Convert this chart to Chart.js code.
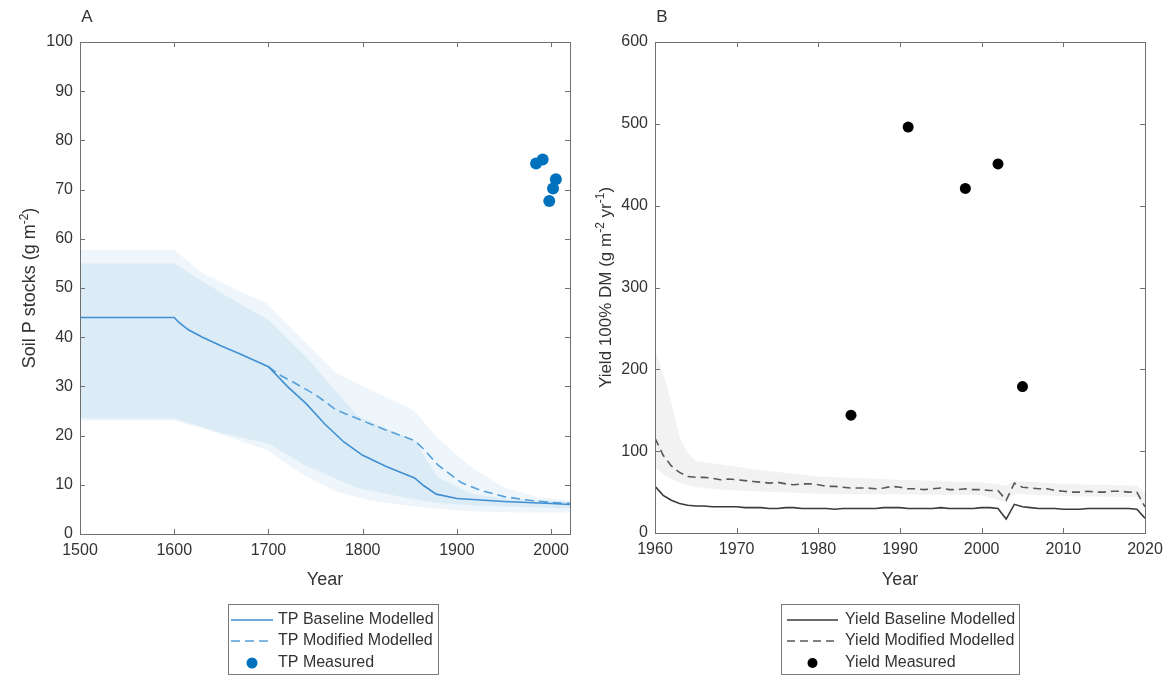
<!DOCTYPE html>
<html>
<head>
<meta charset="utf-8">
<script src="https://cdn.jsdelivr.net/npm/chart.js"></script>
<style>
  html, body { margin: 0; padding: 0; background: #fff; }
  #wrap { position: relative; width: 1172px; height: 675px; overflow: hidden; }
  canvas { position: absolute; top: 0; }
  #chartA { left: 0; }
  #chartB { left: 586px; }
</style>
</head>
<body>
<div id="wrap">
  <canvas id="chartA" width="586" height="675"></canvas>
  <canvas id="chartB" width="586" height="675"></canvas>
</div>
<script>
// Panel A: soil P stocks (g m-2)
const tpYears = [1500, 1600, 1605, 1615, 1630, 1650, 1670, 1700, 1720, 1740, 1760, 1780, 1800, 1825, 1855, 1865, 1878, 1900, 1950, 2000, 2020];
const tpBaseline = [44, 44, 43, 41.5, 40, 38.2, 36.6, 34, 30, 26.5, 22.3, 18.7, 16, 13.7, 11.4, 9.8, 8.1, 7.2, 6.6, 6.2, 6];
const tpModYears = [1700, 1712, 1725, 1750, 1772, 1800, 1825, 1855, 1865, 1880, 1905, 1925, 1950, 1975, 2000, 2020];
const tpModified = [34, 32.3, 31, 28.3, 25.2, 23, 21.1, 19, 17.2, 14, 10.4, 8.9, 7.6, 6.9, 6.4, 6.2];
const tpBandBaseYears = [1500, 1600, 1650, 1700, 1740, 1795, 1855, 1880, 1915, 1950, 2020];
const tpBandBaseHigh = [55, 55, 49, 43.5, 36, 24, 19, 11.5, 8.2, 7.2, 6.6];
const tpBandBaseLow = [23.5, 23.5, 20.5, 18.4, 13.8, 9.3, 7, 6.3, 5.8, 5.6, 5.2];
const tpBandModYears = [1500, 1600, 1630, 1666, 1698, 1737, 1772, 1808, 1854, 1878, 1914, 1950, 1985, 2020];
const tpBandModHigh = [57.7, 57.7, 53, 49.6, 46.9, 39.4, 32.7, 29.3, 25.2, 19.8, 13.7, 9.5, 7.5, 6.8];
const tpBandModLow = [23, 23, 21.5, 19.2, 17.1, 12, 8.6, 6.8, 5.6, 5.2, 4.6, 4.4, 4.3, 4.3];
const measuredYears = [1984, 1991, 1998, 2002, 2005];
const tpMeasured = [75.3, 76.1, 67.7, 70.2, 72.1];

// Panel B: yield 100% DM (g m-2 yr-1)
const yieldYears = [1960, 1961, 1962, 1963, 1964, 1965, 1966, 1967, 1968, 1969,
  1970, 1971, 1972, 1973, 1974, 1975, 1976, 1977, 1978, 1979,
  1980, 1981, 1982, 1983, 1984, 1985, 1986, 1987, 1988, 1989,
  1990, 1991, 1992, 1993, 1994, 1995, 1996, 1997, 1998, 1999,
  2000, 2001, 2002, 2003, 2004, 2005, 2006, 2007, 2008, 2009,
  2010, 2011, 2012, 2013, 2014, 2015, 2016, 2017, 2018, 2019, 2020];
const yieldBaseline = [57, 46, 40, 36, 34, 33, 33, 32, 32, 32,
  32, 31, 31, 31, 30, 30, 31, 31, 30, 30,
  30, 30, 29, 30, 30, 30, 30, 30, 31, 31,
  31, 30, 30, 30, 30, 31, 30, 30, 30, 30,
  31, 31, 30, 17, 35, 32, 31, 30, 30, 30,
  29, 29, 29, 30, 30, 30, 30, 30, 30, 29, 18];
const yieldModified = [116, 95, 82, 74, 69, 68, 68, 67, 65, 66,
  65, 64, 63, 62, 61, 62, 60, 59, 60, 60,
  59, 57, 57, 56, 55, 55, 55, 54, 55, 57,
  56, 54, 54, 53, 54, 55, 53, 53, 54, 53,
  53, 52, 52, 40, 61, 56, 55, 54, 54, 52,
  51, 50, 50, 51, 50, 50, 51, 51, 50, 50, 32];
const yieldBandYears = [1960, 1961, 1962, 1963, 1964, 1965, 1968, 1972, 1980, 1990, 2000, 2003, 2004, 2010, 2019, 2020];
const yieldBandHigh = [225, 195, 160, 118, 98, 88, 84, 78, 69, 65, 62, 58, 64, 60, 58, 50];
const yieldBandLow = [80, 72, 66, 61, 58, 56, 53, 51, 48, 47, 46, 38, 48, 45, 44, 28];
const yieldMeasured = [144, 496, 421, 451, 179];

const font = '"Liberation Sans", Arial, Helvetica, sans-serif';
const ink = '#333333';

function pts(xs, ys) {
  return xs.map((x, i) => ({ x: x, y: ys[i] }));
}

// box, inward ticks on all sides, titles and boxed legend
const frame = {
  id: 'frame',
  afterDraw(chart, args, o) {
    const ctx = chart.ctx;
    const a = chart.chartArea;
    const x = chart.scales.x, y = chart.scales.y;
    ctx.save();
    ctx.strokeStyle = '#707070';
    ctx.lineWidth = 1;
    ctx.strokeRect(Math.round(a.left) + 0.5, Math.round(a.top) + 0.5,
      Math.round(a.right - a.left), Math.round(a.bottom - a.top));
    const t = 5;
    ctx.beginPath();
    x.ticks.forEach(tk => {
      const px = Math.round(x.getPixelForValue(tk.value)) + 0.5;
      ctx.moveTo(px, a.bottom); ctx.lineTo(px, a.bottom - t);
      ctx.moveTo(px, a.top); ctx.lineTo(px, a.top + t);
    });
    y.ticks.forEach(tk => {
      const py = Math.round(y.getPixelForValue(tk.value)) + 0.5;
      ctx.moveTo(a.left, py); ctx.lineTo(a.left + t, py);
      ctx.moveTo(a.right, py); ctx.lineTo(a.right - t, py);
    });
    ctx.stroke();

    ctx.fillStyle = ink;
    ctx.textAlign = 'center';
    ctx.textBaseline = 'middle';
    ctx.font = '17px ' + font;
    ctx.fillText(o.letter, o.letterX, 17);
    ctx.font = '18px ' + font;
    ctx.fillText('Year', (a.left + a.right) / 2, 580);

    // rotated y title with superscripts
    const parts = o.yTitle;
    const big = o.yTitleSize + 'px ' + font, small = '12px ' + font;
    let total = 0;
    parts.forEach(p => { ctx.font = p[1] ? small : big; total += ctx.measureText(p[0]).width; });
    ctx.translate(o.yTitleX, (a.top + a.bottom) / 2);
    ctx.rotate(-Math.PI / 2);
    ctx.textAlign = 'left';
    ctx.textBaseline = 'alphabetic';
    let cx = -total / 2;
    parts.forEach(p => {
      ctx.font = p[1] ? small : big;
      ctx.fillText(p[0], cx, p[1] ? -1 : 6);
      cx += ctx.measureText(p[0]).width;
    });
    ctx.setTransform(1, 0, 0, 1, 0, 0);

    // legend
    const L = o.legend;
    ctx.fillStyle = '#fff';
    ctx.fillRect(L.x, L.y, L.w, L.h);
    ctx.strokeStyle = '#7a7a7a';
    ctx.strokeRect(L.x + 0.5, L.y + 0.5, L.w, L.h);
    ctx.font = '16px ' + font;
    ctx.textBaseline = 'middle';
    o.items.forEach((idx, i) => {
      const ds = chart.data.datasets[idx];
      const ry = L.rows[i];
      if (ds.showLine === false) {
        ctx.fillStyle = ds.pointBackgroundColor;
        ctx.beginPath();
        ctx.arc((L.s0 + L.s1) / 2, ry, ds.pointRadius - 0.5, 0, Math.PI * 2);
        ctx.fill();
      } else {
        ctx.strokeStyle = ds.borderColor;
        ctx.lineWidth = ds.borderWidth;
        ctx.setLineDash(ds.borderDash || []);
        ctx.beginPath();
        ctx.moveTo(L.s0, ry); ctx.lineTo(L.s1, ry);
        ctx.stroke();
        ctx.setLineDash([]);
      }
      ctx.fillStyle = ink;
      ctx.fillText(ds.label, L.tx, ry);
    });
    ctx.restore();
  }
};

function lineSet(label, data, color, dash) {
  return { label: label, data: data, borderColor: color, borderWidth: 1.6, borderDash: dash,
    pointRadius: 0, fill: false, tension: 0 };
}
function bandSet(data, fillTo, color) {
  return { data: data, borderWidth: 0, pointRadius: 0, fill: fillTo, backgroundColor: color, tension: 0 };
}
function dotSet(label, data, color, r) {
  return { label: label, data: data, showLine: false, pointRadius: r, pointBackgroundColor: color,
    pointBorderWidth: 0, borderColor: color };
}

function axes(xMin, xMax, xStep, yMin, yMax, yStep, yWidth) {
  const tickFont = { family: font, size: 16 };
  return {
    x: {
      type: 'linear', min: xMin, max: xMax,
      ticks: { stepSize: xStep, includeBounds: false, color: ink, font: tickFont, padding: 7, maxRotation: 0,
        callback: v => String(v) },
      grid: { display: false, drawTicks: false },
      border: { display: false },
      afterFit: s => { s.height = 30; }
    },
    y: {
      min: yMin, max: yMax,
      ticks: { stepSize: yStep, color: ink, font: tickFont, padding: 7 },
      grid: { display: false, drawTicks: false },
      border: { display: false },
      afterFit: s => { s.width = yWidth; }
    }
  };
}

const common = {
  responsive: false,
  animation: false,
  events: [],
  plugins: { legend: { display: false }, tooltip: { enabled: false } }
};

const tpBlue = '#0072bd';
new Chart(document.getElementById('chartA'), {
  type: 'line',
  data: {
    datasets: [
      dotSet('TP Measured', pts(measuredYears, tpMeasured), tpBlue, 6),
      lineSet('TP Baseline Modelled', pts(tpYears, tpBaseline), '#3f8fd2', []),
      lineSet('TP Modified Modelled', pts(tpModYears, tpModified), '#55a0da', [9, 5]),
      bandSet(pts(tpBandModYears, tpBandModHigh), 4, 'rgba(0,114,189,0.065)'),
      bandSet(pts(tpBandModYears, tpBandModLow), false, 'transparent'),
      bandSet(pts(tpBandBaseYears, tpBandBaseHigh), 6, 'rgba(0,114,189,0.08)'),
      bandSet(pts(tpBandBaseYears, tpBandBaseLow), false, 'transparent')
    ]
  },
  options: Object.assign({}, common, {
    layout: { padding: { top: 42, right: 16, bottom: 111, left: 0 } },
    scales: axes(1500, 2020, 100, 0, 100, 10, 80),
    plugins: Object.assign({}, common.plugins, {
      frame: {
        letter: 'A', letterX: 87, yTitleX: 29, yTitleSize: 18,
        yTitle: [['Soil P stocks (g m', false], ['-2', true], [')', false]],
        items: [1, 2, 0],
        legend: { x: 228, y: 604, w: 210, h: 70, s0: 231, s1: 273, tx: 278, rows: [620, 641, 663] }
      }
    })
  }),
  plugins: [frame]
});

new Chart(document.getElementById('chartB'), {
  type: 'line',
  data: {
    datasets: [
      dotSet('Yield Measured', pts(measuredYears, yieldMeasured), '#000', 5.5),
      lineSet('Yield Baseline Modelled', pts(yieldYears, yieldBaseline), '#3a3a3a', []),
      lineSet('Yield Modified Modelled', pts(yieldYears, yieldModified), '#585858', [8, 5]),
      bandSet(pts(yieldBandYears, yieldBandHigh), 4, 'rgba(0,0,0,0.05)'),
      bandSet(pts(yieldBandYears, yieldBandLow), false, 'transparent')
    ]
  },
  options: Object.assign({}, common, {
    layout: { padding: { top: 42, right: 27, bottom: 112, left: 0 } },
    scales: axes(1960, 2020, 10, 0, 600, 100, 69),
    plugins: Object.assign({}, common.plugins, {
      frame: {
        letter: 'B', letterX: 76, yTitleX: 19, yTitleSize: 17,
        yTitle: [['Yield 100% DM (g m', false], ['-2', true], [' yr', false], ['-1', true], [')', false]],
        items: [1, 2, 0],
        legend: { x: 195, y: 604, w: 238, h: 70, s0: 201, s1: 252, tx: 259, rows: [620, 641, 663] }
      }
    })
  }),
  plugins: [frame]
});
</script>
</body>
</html>
